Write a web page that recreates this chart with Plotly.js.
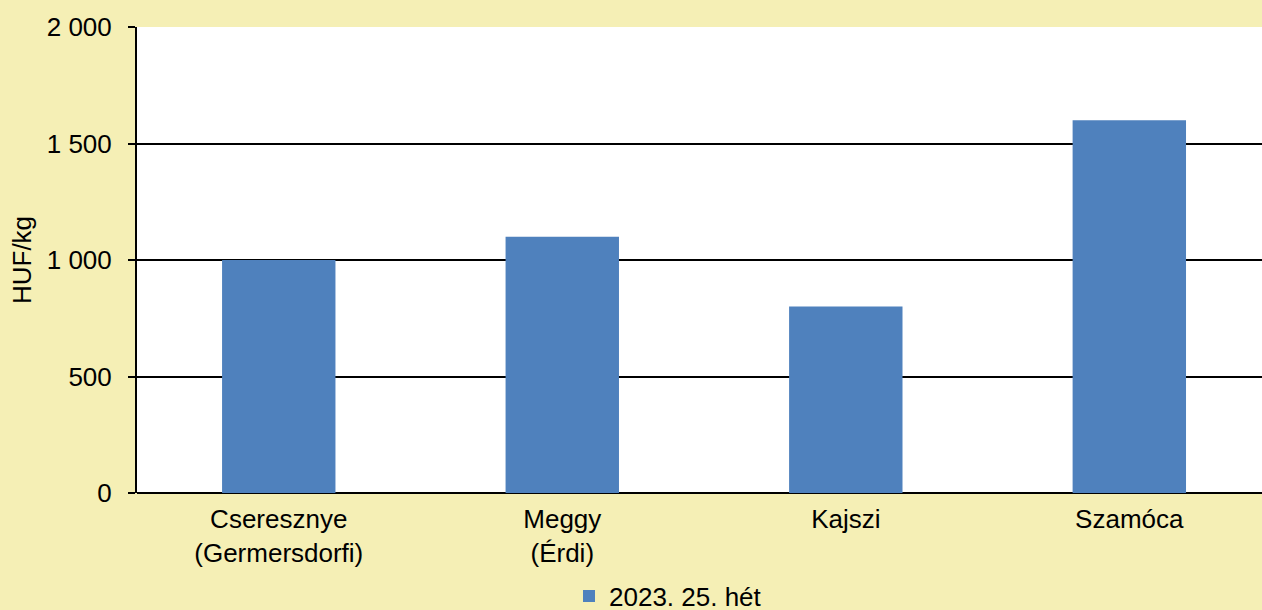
<!DOCTYPE html>
<html>
<head>
<meta charset="utf-8">
<script src="https://cdn.plot.ly/plotly-3.0.1.min.js"></script>
<style>html,body{margin:0;padding:0;background:#F5EFB5;}#chart{width:1262px;height:610px;}</style>
</head>
<body>
<div id="chart"></div>
<script>
const categories = ["Cseresznye<br>(Germersdorfi)", "Meggy<br>(Érdi)", "Kajszi", "Szamóca"];
const seriesName = "2023. 25. hét";
const values = [1000, 1100, 800, 1600];
const yTicks = [0, 500, 1000, 1500, 2000];

const trace = {
  type: "bar",
  x: categories,
  y: values,
  name: seriesName,
  width: 0.4,
  marker: {color: "#4F81BD"},
  showlegend: true,
  hoverinfo: "none"
};

const layout = {
  width: 1262,
  height: 610,
  paper_bgcolor: "#F5EFB5",
  plot_bgcolor: "#FFFFFF",
  margin: {l: 137, r: 0, t: 27, b: 117, autoexpand: false},
  font: {family: "Liberation Sans, Arial, sans-serif", size: 26, color: "#000"},
  separators: ", ",
  xaxis: {
    type: "category",
    range: [-0.5, 3.468],
    showgrid: false,
    ticks: "",
    showline: false,
    zeroline: false,
    tickfont: {size: 26},
    ticklabelstandoff: 8,
    automargin: false
  },
  yaxis: {
    range: [0, 2000],
    tickvals: yTicks,
    tickformat: ",.0f",
    showgrid: true,
    gridcolor: "#000",
    gridwidth: 2,
    showline: true,
    linecolor: "#000",
    linewidth: 2,
    ticks: "outside",
    ticklen: 7,
    tickwidth: 2,
    tickcolor: "#000",
    zeroline: true,
    zerolinecolor: "#000",
    zerolinewidth: 2,
    tickfont: {size: 26},
    ticklabelstandoff: 11,
    title: {text: "HUF/kg", font: {size: 26}, standoff: 8},
    automargin: false
  },
  legend: {
    orientation: "h",
    x: 0.384,
    xanchor: "left",
    y: -0.221,
    yanchor: "middle",
    font: {size: 26},
    bgcolor: "rgba(0,0,0,0)"
  }
};

Plotly.newPlot("chart", [trace], layout, {staticPlot: true, displayModeBar: false});
</script>
</body>
</html>
